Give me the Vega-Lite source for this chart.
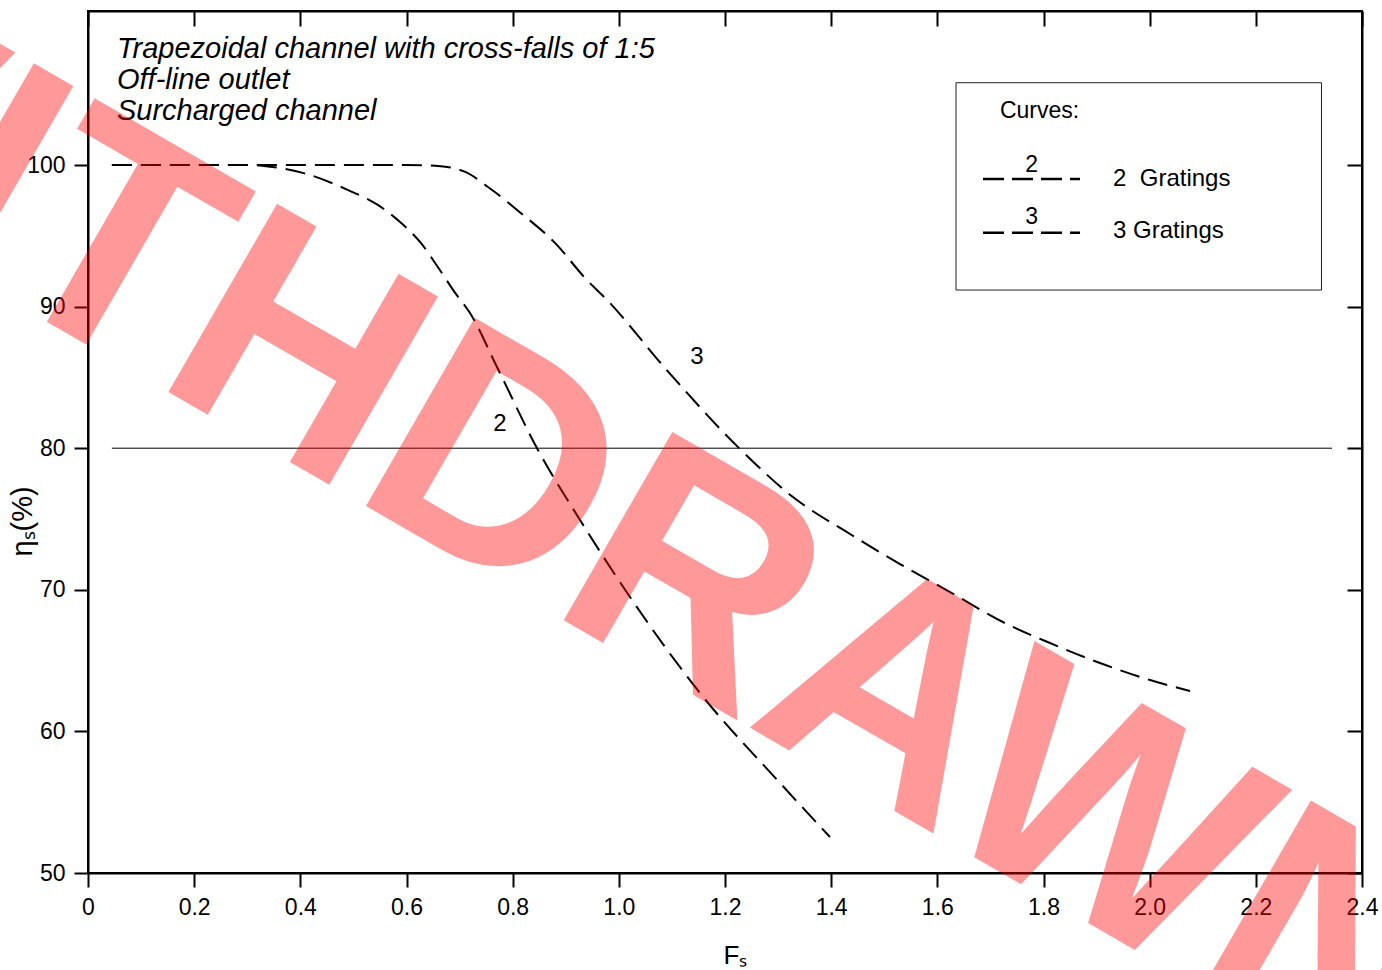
{
  "$schema": "https://vega.github.io/schema/vega-lite/v6.json",
  "autosize": {"type": "none"},
  "width": 1274,
  "height": 862,
  "padding": {"left": 88, "top": 11, "right": 20, "bottom": 97},
  "background": "white",
  "config": {
    "view": {"stroke": "black", "strokeWidth": 2},
    "font": "Liberation Sans",
    "axis": {
      "labelFont": "Liberation Sans",
      "labelFontSize": 23,
      "labelColor": "black",
      "labelFlush": false,
      "domainColor": "black",
      "domainWidth": 2,
      "tickColor": "black",
      "tickWidth": 2,
      "grid": false,
      "titleFont": "Liberation Sans",
      "titleFontWeight": "normal",
      "titleColor": "black"
    }
  },
  "datasets": {
    "curves": [
      {"curve": "2 Gratings", "x": 0.045, "y": 100},
      {"curve": "2 Gratings", "x": 0.30, "y": 100},
      {"curve": "2 Gratings", "x": 0.339, "y": 99.9},
      {"curve": "2 Gratings", "x": 0.408, "y": 99.41},
      {"curve": "2 Gratings", "x": 0.49, "y": 98.23},
      {"curve": "2 Gratings", "x": 0.546, "y": 97.18},
      {"curve": "2 Gratings", "x": 0.59, "y": 95.9},
      {"curve": "2 Gratings", "x": 0.627, "y": 94.5},
      {"curve": "2 Gratings", "x": 0.659, "y": 92.8},
      {"curve": "2 Gratings", "x": 0.691, "y": 91.0},
      {"curve": "2 Gratings", "x": 0.7196, "y": 89.55},
      {"curve": "2 Gratings", "x": 0.7705, "y": 85.73},
      {"curve": "2 Gratings", "x": 0.8477, "y": 79.87},
      {"curve": "2 Gratings", "x": 0.9269, "y": 74.93},
      {"curve": "2 Gratings", "x": 1.021, "y": 69.49},
      {"curve": "2 Gratings", "x": 1.1529, "y": 62.71},
      {"curve": "2 Gratings", "x": 1.3036, "y": 56.36},
      {"curve": "2 Gratings", "x": 1.3978, "y": 52.54},
      {"curve": "3 Gratings", "x": 0.045, "y": 100},
      {"curve": "3 Gratings", "x": 0.60, "y": 100},
      {"curve": "3 Gratings", "x": 0.654, "y": 99.95},
      {"curve": "3 Gratings", "x": 0.7096, "y": 99.53},
      {"curve": "3 Gratings", "x": 0.7535, "y": 98.45},
      {"curve": "3 Gratings", "x": 0.8157, "y": 96.6},
      {"curve": "3 Gratings", "x": 0.8797, "y": 94.5},
      {"curve": "3 Gratings", "x": 0.938, "y": 91.95},
      {"curve": "3 Gratings", "x": 0.9777, "y": 90.47},
      {"curve": "3 Gratings", "x": 1.0907, "y": 85.5},
      {"curve": "3 Gratings", "x": 1.2283, "y": 79.94},
      {"curve": "3 Gratings", "x": 1.3281, "y": 76.55},
      {"curve": "3 Gratings", "x": 1.4355, "y": 73.94},
      {"curve": "3 Gratings", "x": 1.5297, "y": 71.82},
      {"curve": "3 Gratings", "x": 1.6239, "y": 69.84},
      {"curve": "3 Gratings", "x": 1.7312, "y": 67.58},
      {"curve": "3 Gratings", "x": 1.8123, "y": 66.24},
      {"curve": "3 Gratings", "x": 1.9064, "y": 64.83},
      {"curve": "3 Gratings", "x": 2.0006, "y": 63.63},
      {"curve": "3 Gratings", "x": 2.076, "y": 62.85}
    ]
  },
  "layer": [
    {
      "data": {"values": [{"x": 0.045, "x2": 2.3435, "y": 80}]},
      "mark": {"type": "rule", "color": "black", "strokeWidth": 1},
      "encoding": {
        "x": {"field": "x", "type": "quantitative", "scale": {"domain": [0, 2.4], "nice": false, "zero": false},
          "axis": {"orient": "top", "values": [0, 0.2, 0.4, 0.6, 0.8, 1.0, 1.2, 1.4, 1.6, 1.8, 2.0, 2.2, 2.4], "labels": false, "tickSize": -15, "title": null}},
        "x2": {"field": "x2"},
        "y": {"field": "y", "type": "quantitative", "scale": {"domain": [50, 110.876], "nice": false, "zero": false},
          "axis": {"orient": "right", "values": [50, 60, 70, 80, 90, 100], "labels": false, "tickSize": -15, "title": null}}
      }
    },
    {
      "data": {"name": "curves"},
      "mark": {"type": "line", "color": "black", "strokeWidth": 2, "strokeDash": [20, 9], "interpolate": "monotone"},
      "encoding": {
        "x": {"field": "x", "type": "quantitative",
          "axis": {"orient": "bottom", "values": [0, 0.2, 0.4, 0.6, 0.8, 1.0, 1.2, 1.4, 1.6, 1.8, 2.0, 2.2, 2.4],
            "labelExpr": "datum.value == 0 ? '0' : format(datum.value, '.1f')", "tickSize": 14, "labelPadding": 9,
            "title": "Fₛ", "titleFontSize": 26, "titleX": 647, "titleY": 90, "titleBaseline": "alphabetic", "titleAlign": "center"}},
        "y": {"field": "y", "type": "quantitative",
          "axis": {"orient": "left", "values": [50, 60, 70, 80, 90, 100], "tickSize": 14, "labelPadding": 9,
            "title": "ηₛ(%)", "titleFontSize": 29, "titleX": -66, "titleY": 510, "titleBaseline": "middle", "titleAlign": "center", "titleAngle": 270}},
        "detail": {"field": "curve"}
      }
    },
    {
      "data": {"values": [
        {"label": "2", "x": 0.7762, "y": 81.21},
        {"label": "3", "x": 1.1473, "y": 85.95}
      ]},
      "mark": {"type": "text", "fontSize": 24, "color": "black", "align": "center", "baseline": "alphabetic"},
      "encoding": {
        "x": {"field": "x", "type": "quantitative", "axis": null},
        "y": {"field": "y", "type": "quantitative", "axis": null},
        "text": {"field": "label"}
      }
    },
    {
      "data": {"values": [{"x": 1.6352, "x2": 2.3237, "y": 105.81, "y2": 91.17}]},
      "mark": {"type": "rect", "fill": "white", "fillOpacity": 0, "stroke": "#222222", "strokeWidth": 1},
      "encoding": {
        "x": {"field": "x", "type": "quantitative", "axis": null},
        "x2": {"field": "x2"},
        "y": {"field": "y", "type": "quantitative", "axis": null},
        "y2": {"field": "y2"}
      }
    },
    {
      "data": {"values": [
        {"x": 1.686, "x2": 1.8688, "y": 99.01},
        {"x": 1.686, "x2": 1.8688, "y": 95.22}
      ]},
      "mark": {"type": "rule", "color": "black", "strokeWidth": 2.5, "strokeDash": [21, 8]},
      "encoding": {
        "x": {"field": "x", "type": "quantitative", "axis": null},
        "x2": {"field": "x2"},
        "y": {"field": "y", "type": "quantitative", "axis": null}
      }
    },
    {
      "data": {"values": [
        {"label": "2", "x": 1.7778, "y": 99.5},
        {"label": "3", "x": 1.7778, "y": 95.8}
      ]},
      "mark": {"type": "text", "fontSize": 23, "color": "black", "align": "center", "baseline": "alphabetic"},
      "encoding": {
        "x": {"field": "x", "type": "quantitative", "axis": null},
        "y": {"field": "y", "type": "quantitative", "axis": null},
        "text": {"field": "label"}
      }
    },
    {
      "data": {"values": [
        {"label": "Curves:", "x": 1.718, "y": 103.32, "size": 23},
        {"label": "2\u00a0 Gratings", "x": 1.931, "y": 98.52, "size": 24},
        {"label": "3 Gratings", "x": 1.931, "y": 94.82, "size": 24}
      ]},
      "mark": {"type": "text", "color": "black", "align": "left", "baseline": "alphabetic"},
      "encoding": {
        "x": {"field": "x", "type": "quantitative", "axis": null},
        "y": {"field": "y", "type": "quantitative", "axis": null},
        "text": {"field": "label"},
        "size": {"field": "size", "type": "quantitative", "scale": null, "legend": null}
      }
    },
    {
      "data": {"values": [
        {"label": "Trapezoidal channel with cross-falls of 1:5", "x": 0.0546, "y": 107.556},
        {"label": "Off-line outlet", "x": 0.0546, "y": 105.367},
        {"label": "Surcharged channel", "x": 0.0546, "y": 103.178}
      ]},
      "mark": {"type": "text", "fontSize": 29, "fontStyle": "italic", "color": "black", "align": "left", "baseline": "alphabetic"},
      "encoding": {
        "x": {"field": "x", "type": "quantitative", "axis": null},
        "y": {"field": "y", "type": "quantitative", "axis": null},
        "text": {"field": "label"}
      }
    },
    {
      "data": {"values": [{"label": "WITHDRAWN", "x": 0.8044, "y": 69.84}]},
      "mark": {"type": "text", "fontSize": 316, "fontWeight": "bold", "color": "#ff0000", "opacity": 0.4, "angle": 30, "align": "center", "baseline": "alphabetic"},
      "encoding": {
        "x": {"field": "x", "type": "quantitative", "axis": null},
        "y": {"field": "y", "type": "quantitative", "axis": null},
        "text": {"field": "label"}
      }
    }
  ],
  "resolve": {"axis": {"x": "independent", "y": "independent"}}
}
